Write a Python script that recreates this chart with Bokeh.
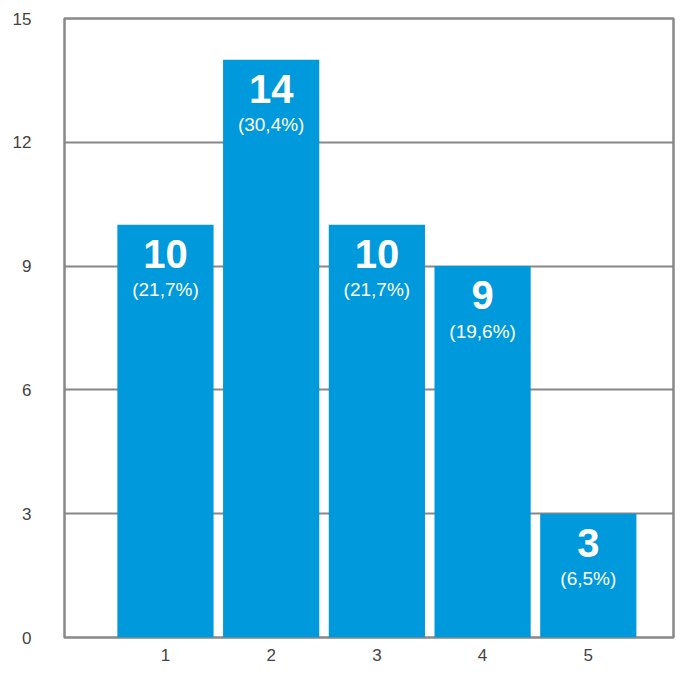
from bokeh.plotting import figure
from bokeh.models import FixedTicker, Range1d, ColumnDataSource
from bokeh.core.properties import value
from bokeh.embed import file_html
from bokeh.resources import INLINE

categories = [1, 2, 3, 4, 5]
counts = [10, 14, 10, 9, 3]
percent_labels = ["(21,7%)", "(30,4%)", "(21,7%)", "(19,6%)", "(6,5%)"]
y_ticks = [0, 3, 6, 9, 12, 15]

src = ColumnDataSource(dict(x=categories, y=counts,
                            num=[str(c) for c in counts], pct=percent_labels))

p = figure(width=675, height=663, output_backend="svg", toolbar_location=None,
           x_range=Range1d(0.045, 5.806), y_range=Range1d(0, 15),
           min_border_left=64, min_border_right=2, min_border_top=18, min_border_bottom=25)

p.vbar(x="x", top="y", width=0.91, bottom=0, source=src, color="#0099DB", line_color=None)

font = value("Liberation Sans")
p.text(x="x", y="y", text="num", source=src, text_align="center", text_baseline="alphabetic",
       y_offset=29, text_color="white", text_font=font, text_font_size="40px",
       text_font_style="bold")
p.text(x="x", y="y", text="pct", source=src, text_align="center", text_baseline="alphabetic",
       y_offset=65, text_color="white", text_font=font, text_font_size="19px")

p.outline_line_color = "#888888"
p.outline_line_width = 2.5
p.xgrid.grid_line_color = None
p.ygrid.grid_line_color = "#888888"
p.ygrid.grid_line_width = 2
p.ygrid.ticker = FixedTicker(ticks=y_ticks)

p.yaxis.ticker = FixedTicker(ticks=y_ticks)
p.xaxis.ticker = FixedTicker(ticks=categories)
for ax in (p.xaxis, p.yaxis):
    ax.axis_line_color = None
    ax.major_tick_line_color = None
    ax.minor_tick_line_color = None
    ax.major_label_text_font = "Liberation Sans"
    ax.major_label_text_font_size = "17px"
    ax.major_label_text_color = "#444444"
p.yaxis.major_label_standoff = 27
p.xaxis.major_label_standoff = 5

open("out.html", "w").write(file_html(p, INLINE))
